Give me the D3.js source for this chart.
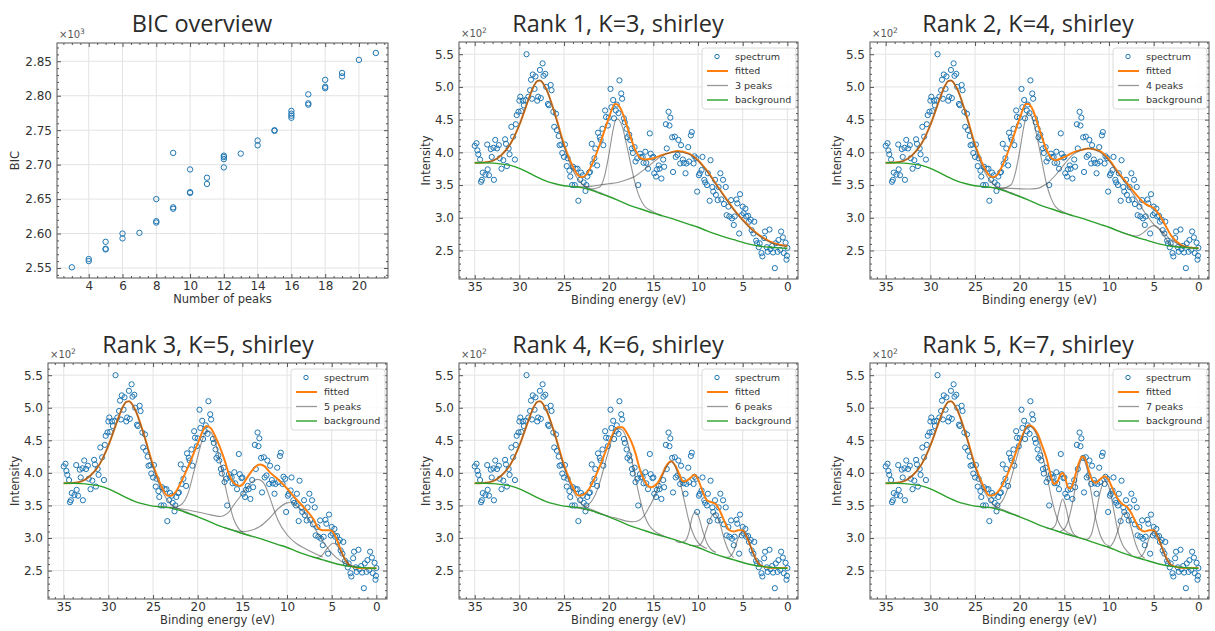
<!DOCTYPE html>
<html>
<head>
<meta charset="utf-8">
<script src="https://cdn.jsdelivr.net/npm/d3@7"></script>
<style>
  body { margin: 0; background: #fff; }
  svg { display: block; }
</style>
</head>
<body>
<svg id="fig" width="1215" height="631"></svg>
<script>
// ---- data ----

// BIC overview: [number of peaks, BIC]
var bicPoints = [
  [3, 2551], [4, 2563], [4, 2560], [5, 2588], [5, 2578], [5, 2577],
  [6, 2600], [6, 2593], [7, 2601], [8, 2650], [8, 2618], [8, 2616],
  [9, 2717], [9, 2638], [9, 2636], [10, 2693], [10, 2660], [10, 2659],
  [11, 2681], [11, 2672], [12, 2713], [12, 2711], [12, 2708], [12, 2696],
  [13, 2716], [14, 2735], [14, 2728], [15, 2750], [15, 2749],
  [16, 2778], [16, 2774], [16, 2771], [16, 2768],
  [17, 2802], [17, 2789], [17, 2787], [18, 2823], [18, 2813], [18, 2811],
  [19, 2833], [19, 2828], [20, 2852], [21, 2862]
];

// measured spectrum: [binding energy (eV), intensity (x10^2)]
var spectrum = [
  [35.0,4.10],[34.8,4.14],[34.7,4.03],[34.6,3.97],[34.4,3.89],[34.3,3.55],[34.2,3.58],[34.1,3.69],
  [33.8,3.66],[33.6,4.12],[33.55,3.74],[33.4,3.65],[33.2,4.05],[33.1,3.93],[32.9,4.07],[32.85,3.58],
  [32.7,4.19],[32.5,4.06],[32.3,4.11],[32.2,3.91],[32.0,3.75],[31.8,3.88],[31.6,4.20],[31.5,4.13],
  [31.4,3.79],[31.2,4.06],[31.1,3.97],[30.9,4.39],[30.7,4.24],[30.5,3.89],[30.4,4.43],[30.3,4.57],
  [30.1,4.62],[30.0,4.79],[29.9,4.85],[29.8,4.63],[29.6,4.79],[29.5,4.72],[29.3,4.80],[29.2,5.50],
  [29.0,4.85],[28.8,4.95],[28.7,5.11],[28.6,4.82],[28.5,5.19],[28.3,4.97],[28.2,5.16],[28.0,4.79],
  [27.9,4.85],[27.7,5.26],[27.6,4.83],[27.4,5.36],[27.3,5.17],[27.1,5.20],[27.0,5.00],[26.8,4.74],
  [26.7,4.72],[26.5,5.03],[26.4,4.95],[26.2,4.62],[26.1,4.39],[25.9,4.59],[25.8,4.34],[25.6,4.25],
  [25.5,4.11],[25.3,4.12],[25.2,3.99],[25.0,3.93],[24.9,4.12],[24.7,3.79],[24.6,3.91],[24.4,3.72],
  [24.3,3.63],[24.1,3.50],[24.0,3.78],[23.8,3.50],[23.7,3.75],[23.5,3.75],[23.4,3.26],[23.2,3.58],
  [23.1,3.69],[22.9,3.65],[22.8,3.54],[22.6,3.41],[22.5,3.50],[22.4,3.63],[22.2,3.69],[22.1,3.70],
  [21.9,4.13],[21.8,3.83],[21.6,3.91],[21.5,4.06],[21.3,3.80],[21.2,4.30],[21.0,4.23],[20.9,4.19],
  [20.7,4.36],[20.6,4.11],[20.4,4.64],[20.3,4.54],[20.1,4.41],[20.0,4.53],[19.8,4.97],[19.7,4.69],
  [19.5,4.80],[19.4,4.52],[19.2,4.64],[19.1,4.73],[18.9,4.60],[18.8,5.10],[18.6,4.90],[18.5,4.82],
  [18.3,4.52],[18.2,4.46],[18.0,4.36],[17.9,4.23],[17.7,4.27],[17.6,4.19],[17.4,4.06],[17.3,3.99],
  [17.1,4.08],[17.0,3.86],[16.8,3.91],[16.7,3.50],[16.5,3.98],[16.4,3.93],[16.2,3.93],[16.1,3.84],
  [15.9,4.01],[15.8,3.84],[15.6,3.75],[15.4,4.29],[15.3,3.98],[15.1,3.92],[15.0,3.93],[14.9,3.68],
  [14.7,3.63],[14.6,3.74],[14.4,3.80],[14.3,3.75],[14.1,3.60],[13.9,3.89],[13.8,3.78],[13.6,4.43],
  [13.5,4.06],[13.3,4.62],[13.2,4.41],[13.1,4.53],[12.9,4.23],[12.8,3.70],[12.6,4.24],[12.5,3.93],
  [12.3,3.96],[12.2,4.19],[12.0,3.83],[11.9,4.11],[11.7,3.89],[11.6,3.84],[11.4,3.68],[11.3,3.83],
  [11.1,4.08],[11.0,3.86],[10.8,4.26],[10.7,4.31],[10.5,3.83],[10.4,3.94],[10.2,3.91],[10.1,3.40],
  [9.9,3.65],[9.8,3.68],[9.6,3.73],[9.5,3.93],[9.3,3.58],[9.2,3.54],[9.0,3.50],[8.9,3.68],
  [8.7,3.26],[8.6,3.88],[8.4,3.47],[8.3,3.40],[8.1,3.58],[8.0,3.35],[7.8,3.27],[7.7,3.47],
  [7.5,3.68],[7.4,3.28],[7.2,3.58],[7.1,3.21],[6.9,3.47],[6.8,3.04],[6.6,3.17],[6.5,3.02],
  [6.3,3.27],[6.2,2.99],[6.0,2.89],[5.9,3.02],[5.7,3.28],[5.6,3.22],[5.4,2.76],[5.3,3.36],
  [5.1,3.04],[5.0,3.17],[4.9,3.07],[4.7,3.14],[4.6,3.02],[4.4,3.03],[4.3,2.94],[4.1,2.97],
  [4.0,2.81],[3.8,2.76],[3.7,2.94],[3.5,2.65],[3.4,2.61],[3.2,2.55],[3.1,2.61],[2.9,2.46],
  [2.8,2.41],[2.6,2.69],[2.5,2.79],[2.3,2.55],[2.2,2.48],[2.0,2.82],[1.9,2.52],[1.7,2.57],
  [1.6,2.47],[1.4,2.23],[1.3,2.61],[1.1,2.48],[1.0,2.66],[0.8,2.51],[0.7,2.79],[0.5,2.70],
  [0.4,2.46],[0.2,2.62],[0.1,2.36],[0.05,2.42],[0.0,2.54]
];

// shirley background (same in every fit)
var background = [
  [35,3.84],[34,3.84],[33,3.835],[32,3.82],[31,3.80],[30,3.755],[29,3.69],[28,3.62],[27,3.56],
  [26,3.52],[25,3.49],[24,3.475],[23,3.46],[22,3.425],[21,3.375],[20,3.325],[19,3.27],[18,3.21],
  [17,3.16],[16,3.115],[15,3.07],[14,3.03],[13,2.99],[12,2.945],[11,2.90],[10,2.855],[9,2.80],
  [8,2.75],[7,2.705],[6,2.665],[5,2.625],[4,2.59],[3,2.565],[2,2.55],[1,2.54],[0,2.535]
];

// first (largest) peak component, shared by every fit
var peakMain = [
  [35,3.84],[34,3.845],[33,3.87],[32,3.96],[31,4.13],[30,4.42],[29,4.80],[28.5,4.98],[28,5.09],
  [27.7,5.10],[27,4.97],[26,4.57],[25,4.09],[24,3.72],[23,3.52],[22,3.44],[21,3.385],[20,3.33]
];
var fitLeft = [
  [35,3.84],[34,3.845],[33,3.87],[32,3.96],[31,4.13],[30,4.42],[29,4.80],[28.5,4.98],[28,5.09],
  [27.7,5.10],[27,4.97],[26,4.58],[25,4.12],[24,3.78],[23.5,3.66]
];

// rank 1, K=3
var fit3 = fitLeft.concat([
  [23,3.62],[22.5,3.66],[22,3.78],[21,4.12],[20,4.52],[19.3,4.74],[19,4.73],[18.5,4.62],[18,4.42],
  [17,4.03],[16.5,3.92],[16,3.89],[15,3.91],[14,3.96],[13,4.0],[12.3,4.02],[11,3.98],[10,3.88],
  [9,3.72],[8,3.52],[7.5,3.42],[7,3.32],[6,3.13],[5,2.97],[4,2.83],[3,2.72],[2,2.64],[1,2.59],[0,2.57]
]);
var peaks3 = [
  peakMain,
  [[23,3.46],[22,3.44],[21,3.47],[20.5,3.62],[20,3.95],[19.5,4.35],[19.2,4.50],[19,4.51],[18.5,4.40],
   [18,4.12],[17.5,3.80],[17,3.50],[16.5,3.30],[16,3.18],[15,3.09],[14,3.035]],
  [[24,3.48],[23,3.475],[22,3.48],[21,3.50],[20,3.52],[19,3.54],[18,3.58],[17,3.64],[16,3.74],
   [15,3.85],[14,3.95],[13,4.0],[12.3,4.01],[11,3.97],[10,3.87],[9,3.71],[8,3.51],[7,3.31],
   [6,3.12],[5,2.96],[4,2.82],[3,2.71],[2,2.63],[1,2.585],[0,2.565]]
];

// rank 2, K=4
var fit4 = fitLeft.concat([
  [23,3.62],[22.5,3.66],[22,3.78],[21,4.12],[20,4.52],[19.3,4.74],[19,4.74],[18.5,4.64],[18,4.44],
  [17,4.04],[16.5,3.92],[16,3.88],[15,3.93],[14,4.0],[13,4.04],[12.3,4.06],[11,4.02],[10,3.89],
  [9,3.70],[8,3.53],[7,3.36],[6,3.22],[5.5,3.18],[5,3.15],[4.5,3.07],[4,2.96],[3,2.72],[2,2.59],
  [1,2.545],[0,2.535]
]);
var peaks4 = [
  peakMain,
  [[23,3.46],[22,3.45],[21,3.50],[20.5,3.68],[20,4.02],[19.5,4.42],[19.2,4.58],[19,4.60],[18.5,4.48],
   [18,4.20],[17.5,3.85],[17,3.52],[16.5,3.30],[16,3.17],[15,3.08],[14,3.03]],
  [[24,3.47],[23,3.46],[21,3.45],[19,3.44],[18,3.45],[17,3.52],[16,3.65],[15,3.82],[14,3.97],
   [13,4.04],[12.3,4.06],[11,4.0],[10,3.87],[9,3.68],[8,3.50],[7,3.30],[6,3.08],[5,2.90],
   [4,2.78],[3,2.66],[2,2.58],[1,2.545],[0,2.535]],
  [[9,2.80],[8,2.75],[7,2.72],[6.5,2.74],[6,2.79],[5.5,2.85],[5,2.88],[4.5,2.85],[4,2.76],
   [3.5,2.65],[3,2.58],[2,2.55]]
];

// rank 3, K=5
var fit5 = fitLeft.concat([
  [23.3,3.65],[23,3.65],[22.5,3.70],[22,3.82],[21,4.12],[20,4.45],[19.2,4.70],[19,4.72],[18.5,4.68],
  [18,4.55],[17,4.20],[16.5,3.98],[16,3.85],[15.3,3.80],[15,3.82],[14.5,3.92],[14,4.02],[13.3,4.12],
  [13,4.13],[12.5,4.10],[12,4.02],[11,3.90],[10,3.76],[9,3.60],[8,3.45],[7,3.28],[6.5,3.15],
  [6,3.12],[5.3,3.12],[5,3.11],[4.5,3.0],[4,2.82],[3.5,2.67],[3,2.58],[2,2.54],[1,2.535],[0,2.535]
]);
var peaks5 = [
  peakMain,
  [[24,3.47],[23,3.47],[22,3.50],[21,3.72],[20.5,3.98],[20,4.25],[19.5,4.50],[19,4.65],[18.5,4.62],
   [18,4.45],[17.5,4.18],[17,3.85],[16.5,3.55],[16,3.30],[15.5,3.16],[15,3.09],[14,3.03]],
  [[24,3.48],[22,3.45],[20,3.40],[19,3.37],[18,3.34],[17.5,3.33],[17,3.35],[16.5,3.40],[16,3.50],
   [15,3.68],[14,3.85],[13.3,3.90],[13,3.89],[12.5,3.82],[12,3.65],[11.5,3.45],[11,3.27],[10,3.05],
   [9,2.92],[8,2.84],[7,2.77],[6,2.71]],
  [[17,3.16],[16,3.12],[15,3.10],[14,3.12],[13,3.18],[12,3.30],[11,3.45],[10,3.54],[9.6,3.55],
   [9,3.50],[8,3.38],[7,3.17],[6,2.95],[5,2.77],[4,2.65],[3,2.58],[2,2.55]],
  [[7,2.70],[6.5,2.70],[6,2.75],[5.5,2.84],[5,2.91],[4.8,2.92],[4.5,2.90],[4,2.80],[3.5,2.67],
   [3,2.59],[2.5,2.56],[2,2.55]]
];

// rank 4, K=6
var fit6 = fitLeft.concat([
  [23.2,3.65],[22.5,3.70],[22,3.80],[21,4.10],[20,4.45],[19,4.70],[18.5,4.70],[18,4.62],[17,4.30],
  [16.5,4.05],[16,3.88],[15.3,3.78],[15,3.79],[14.5,3.85],[14,3.98],[13.5,4.12],[13,4.18],[12.5,4.10],
  [12,3.95],[11.7,3.87],[11.3,3.88],[10.8,3.93],[10.4,3.97],[10,3.90],[9.5,3.72],[9,3.58],[8.5,3.55],
  [8,3.52],[7.5,3.40],[7,3.24],[6.5,3.12],[6,3.10],[5.5,3.12],[5,3.12],[4.5,3.0],[4,2.83],[3.5,2.67],
  [3,2.58],[2,2.545],[1,2.54],[0,2.54]
]);
var peaks6 = [
  peakMain,
  [[24,3.47],[23,3.47],[22,3.55],[21,3.85],[20.5,4.10],[20,4.35],[19.5,4.58],[19,4.68],[18.5,4.66],
   [18,4.52],[17.5,4.25],[17,3.92],[16.5,3.60],[16,3.35],[15.5,3.20],[15,3.12],[14,3.04],[13,2.99]],
  [[24,3.47],[22,3.42],[20,3.33],[19,3.30],[18,3.26],[17.2,3.25],[16.5,3.28],[16,3.35],[15.5,3.47],
   [15,3.60],[14.5,3.78],[14,3.95],[13.5,4.10],[13,4.17],[12.5,4.08],[12,3.85],[11.5,3.55],[11,3.25],
   [10.5,3.05],[10,2.93],[9,2.84]],
  [[12.5,2.95],[12,2.93],[11.5,2.95],[11,3.10],[10.7,3.30],[10.3,3.40],[10,3.35],[9.5,3.12],
   [9,2.92],[8.5,2.82],[8,2.78]],
  [[11,2.89],[10,2.88],[9.5,2.95],[9,3.15],[8.5,3.33],[8.2,3.38],[8,3.36],[7.5,3.20],[7,2.95],
   [6.5,2.78],[6,2.70]],
  [[7,2.70],[6.5,2.71],[6,2.80],[5.5,3.00],[5,3.10],[4.5,3.02],[4,2.82],[3.5,2.66],[3,2.58],[2.5,2.56]]
];

// rank 5, K=7
var fit7 = fitLeft.concat([
  [23.2,3.65],[22.5,3.70],[22,3.80],[21,4.10],[20,4.47],[19,4.73],[18.5,4.70],[18,4.60],[17.5,4.42],
  [17,4.22],[16.5,3.95],[16.2,3.83],[15.8,3.86],[15.4,3.98],[15.2,4.0],[14.9,3.92],[14.6,3.78],
  [14.3,3.76],[14,3.85],[13.5,4.10],[13,4.25],[12.7,4.22],[12.3,4.05],[12,3.92],[11.5,3.85],
  [11,3.90],[10.5,3.95],[10,3.88],[9.5,3.72],[9,3.60],[8.5,3.52],[8,3.48],[7.5,3.38],[7,3.24],
  [6.5,3.13],[6,3.10],[5.5,3.12],[5,3.12],[4.5,3.0],[4,2.83],[3.5,2.67],[3,2.58],[2,2.545],
  [1,2.54],[0,2.54]
]);
var peaks7 = [
  peakMain,
  [[24,3.47],[23,3.47],[22,3.56],[21,3.90],[20.5,4.15],[20,4.40],[19.5,4.62],[19,4.72],[18.5,4.68],
   [18,4.55],[17.5,4.30],[17,4.00],[16.5,3.65],[16,3.38],[15.5,3.20],[15,3.12],[14,3.04],[13,2.99]],
  [[17,3.15],[16.5,3.14],[16,3.20],[15.6,3.42],[15.2,3.60],[14.8,3.45],[14.4,3.20],[14,3.07],[13.5,3.02]],
  [[15.5,3.10],[15,3.14],[14.5,3.30],[14,3.60],[13.5,4.00],[13,4.22],[12.5,4.08],[12,3.70],
   [11.5,3.30],[11,3.05],[10.5,2.92],[10,2.88]],
  [[13,2.99],[12.5,2.98],[12,3.05],[11.5,3.35],[11,3.70],[10.5,3.88],[10,3.78],[9.5,3.45],
   [9,3.10],[8.5,2.90],[8,2.80],[7.5,2.74]],
  [[10.5,2.87],[10,2.87],[9.5,2.94],[9,3.12],[8.5,3.35],[8.2,3.40],[8,3.37],[7.5,3.15],[7,2.90],
   [6.5,2.75],[6,2.69]],
  [[7,2.70],[6.5,2.71],[6,2.80],[5.5,3.00],[5,3.10],[4.5,3.02],[4,2.82],[3.5,2.66],[3,2.58],[2.5,2.56]]
];

var fitTitles = ["Rank 1, K=3, shirley", "Rank 2, K=4, shirley", "Rank 3, K=5, shirley",
                 "Rank 4, K=6, shirley", "Rank 5, K=7, shirley"];
var fitLabels = ["3 peaks", "4 peaks", "5 peaks", "6 peaks", "7 peaks"];
var fitCurves = [fit3, fit4, fit5, fit6, fit7];
var fitPeaks = [peaks3, peaks4, peaks5, peaks6, peaks7];

var energyTicks = [35, 30, 25, 20, 15, 10, 5, 0];
var intensityTicks = [2.5, 3.0, 3.5, 4.0, 4.5, 5.0, 5.5];
var peakCountTicks = [4, 6, 8, 10, 12, 14, 16, 18, 20];
var bicTicks = [2550, 2600, 2650, 2700, 2750, 2800, 2850];

// ---- layout ----
var svg = d3.select("#fig");
var tickFont = "'DejaVu Sans', sans-serif";
var titleFont = "'Open Sans', sans-serif";
var textColor = "#333";

var boxes = [
  {l: 57, r: 388, t: 43, b: 278, tx: 202, ty: 32},   // BIC
  {l: 459, r: 798, t: 42, b: 279, tx: 618, ty: 32},
  {l: 870, r: 1209, t: 42, b: 279, tx: 1028, ty: 32},
  {l: 48, r: 387, t: 363, b: 599, tx: 208, ty: 353},
  {l: 459, r: 798, t: 363, b: 599, tx: 618, ty: 353},
  {l: 870, r: 1209, t: 363, b: 599, tx: 1028, ty: 353}
];

function styleText(sel, size) {
  return sel.attr("font-family", tickFont).attr("font-size", size).attr("fill", textColor);
}

// grid lines at the major ticks
function drawGrid(g, x, y, box, xt, yt) {
  var grid = g.append("g").attr("stroke", "#e3e3e3").attr("stroke-width", 1);
  grid.selectAll(".gx").data(xt).join("line")
      .attr("x1", function(d) { return x(d); }).attr("x2", function(d) { return x(d); })
      .attr("y1", box.t).attr("y2", box.b);
  grid.selectAll(".gy").data(yt).join("line")
      .attr("y1", function(d) { return y(d); }).attr("y2", function(d) { return y(d); })
      .attr("x1", box.l).attr("x2", box.r);
}

// inward ticks on all four sides plus the frame
function drawFrame(g, x, y, box, xt, yt, xm, ym, xf, yf) {
  function ax(axis, tr, vals, size, pad, fmt) {
    var a = g.append("g").attr("transform", tr)
        .call(axis.tickValues(vals).tickSize(size).tickPadding(pad).tickFormat(fmt));
    a.select(".domain").remove();
    a.selectAll("line").attr("stroke", "#555");
    return a;
  }
  var none = function() { return ""; };
  var xb = ax(d3.axisBottom(x), "translate(0," + box.b + ")", xt, -4, 3, xf);
  ax(d3.axisBottom(x), "translate(0," + box.b + ")", xm, -2, 3, none);
  ax(d3.axisTop(x), "translate(0," + box.t + ")", xt, -4, 3, none);
  ax(d3.axisTop(x), "translate(0," + box.t + ")", xm, -2, 3, none);
  var yl = ax(d3.axisLeft(y), "translate(" + box.l + ",0)", yt, -4, 5, yf);
  ax(d3.axisLeft(y), "translate(" + box.l + ",0)", ym, -2, 5, none);
  ax(d3.axisRight(y), "translate(" + box.r + ",0)", yt, -4, 5, none);
  ax(d3.axisRight(y), "translate(" + box.r + ",0)", ym, -2, 5, none);
  styleText(xb.selectAll("text"), 12);
  styleText(yl.selectAll("text"), 12);
  g.append("rect")
      .attr("x", box.l).attr("y", box.t)
      .attr("width", box.r - box.l).attr("height", box.b - box.t)
      .attr("fill", "none").attr("stroke", "#555").attr("stroke-width", 1);
}

function drawTitle(box, text) {
  svg.append("text")
      .attr("x", box.tx).attr("y", box.ty)
      .attr("text-anchor", "middle")
      .attr("font-family", titleFont).attr("font-size", 23.5)
      .attr("fill", "#2b2b2b")
      .text(text);
}

function drawOffset(box, power) {
  var t = svg.append("text")
      .attr("x", box.l + 2).attr("y", box.t - 5)
      .attr("font-family", tickFont).attr("font-size", 10).attr("fill", "#555");
  t.append("tspan").text("\u00d710");
  t.append("tspan").attr("dy", -4).attr("font-size", 7.5).text(power);
}

function axisLabels(box, xText, yText, yGap) {
  styleText(svg.append("text")
      .attr("x", (box.l + box.r) / 2).attr("y", box.b + 25)
      .attr("text-anchor", "middle"), 11.5).text(xText);
  styleText(svg.append("text")
      .attr("transform", "translate(" + (box.l - yGap) + "," + ((box.t + box.b) / 2) + ") rotate(-90)")
      .attr("text-anchor", "middle"), 11.5).text(yText);
}

// ---- BIC overview ----
(function() {
  var box = boxes[0];
  var x = d3.scaleLinear().domain([2.12, 21.72]).range([box.l, box.r]);
  var y = d3.scaleLinear().domain([2535.5, 2876.5]).range([box.b, box.t]);
  var g = svg.append("g");
  drawGrid(g, x, y, box, peakCountTicks, bicTicks);
  g.append("g").selectAll("circle").data(bicPoints).join("circle")
      .attr("cx", function(d) { return x(d[0]); })
      .attr("cy", function(d) { return y(d[1]); })
      .attr("r", 2.7)
      .attr("fill", "none").attr("stroke", "#1f77b4").attr("stroke-width", 1);
  drawFrame(g, x, y, box, peakCountTicks, bicTicks,
      d3.range(2.5, 21.6, 0.5).filter(function(v) { return v % 2 !== 0; }),
      d3.range(2540, 2876, 10).filter(function(v) { return v % 50 !== 0; }),
      d3.format("d"), function(v) { return (v / 1000).toFixed(2); });
  drawTitle(box, "BIC overview");
  drawOffset(box, "3");
  axisLabels(box, "Number of peaks", "BIC", 38);
})();

// ---- fit panels ----
fitCurves.forEach(function(fit, i) {
  var box = boxes[i + 1];
  var x = d3.scaleLinear().domain([36.76, -1.19]).range([box.l, box.r]);
  var y = d3.scaleLinear().domain([2.064, 5.687]).range([box.b, box.t]);
  var line = d3.line()
      .x(function(d) { return x(d[0]); })
      .y(function(d) { return y(d[1]); })
      .curve(d3.curveMonotoneX);
  var g = svg.append("g");
  drawGrid(g, x, y, box, energyTicks, intensityTicks);

  g.append("g").selectAll("circle").data(spectrum).join("circle")
      .attr("cx", function(d) { return x(d[0]); })
      .attr("cy", function(d) { return y(d[1]); })
      .attr("r", 2.6)
      .attr("fill", "none").attr("stroke", "#1f77b4").attr("stroke-width", 1);

  g.append("path").datum(fit).attr("d", line)
      .attr("fill", "none").attr("stroke", "#ff7f0e").attr("stroke-width", 2);

  g.append("g").selectAll("path").data(fitPeaks[i]).join("path")
      .attr("d", line)
      .attr("fill", "none").attr("stroke", "#4d4d4d").attr("stroke-opacity", 0.6)
      .attr("stroke-width", 1.1);

  g.append("path").datum(background).attr("d", line)
      .attr("fill", "none").attr("stroke", "#2ca02c").attr("stroke-width", 1.4);

  drawFrame(g, x, y, box, energyTicks, intensityTicks,
      d3.range(-1, 37).filter(function(v) { return v % 5 !== 0; }),
      d3.range(2.1, 5.65, 0.1).filter(function(v) { return Math.abs(v * 2 - Math.round(v * 2)) > 0.05; }),
      d3.format("d"), d3.format(".1f"));

  // legend
  var lx = box.r - 96, ly = box.t + 6;
  var lg = g.append("g").attr("transform", "translate(" + lx + "," + ly + ")");
  lg.append("rect").attr("width", 94).attr("height", 61).attr("rx", 3)
      .attr("fill", "#fff").attr("fill-opacity", 0.85)
      .attr("stroke", "#d0d0d0").attr("stroke-width", 0.8);
  var items = [
    {label: "spectrum", kind: "dot", color: "#1f77b4"},
    {label: "fitted", kind: "line", color: "#ff7f0e", w: 2},
    {label: fitLabels[i], kind: "line", color: "#999", w: 1.3},
    {label: "background", kind: "line", color: "#2ca02c", w: 1.4}
  ];
  var row = lg.selectAll(".row").data(items).join("g")
      .attr("transform", function(d, k) { return "translate(0," + (8.5 + k * 14.5) + ")"; });
  row.filter(function(d) { return d.kind === "dot"; }).append("circle")
      .attr("cx", 15).attr("r", 2.2)
      .attr("fill", "none").attr("stroke", function(d) { return d.color; }).attr("stroke-width", 1);
  row.filter(function(d) { return d.kind === "line"; }).append("line")
      .attr("x1", 5).attr("x2", 26)
      .attr("stroke", function(d) { return d.color; })
      .attr("stroke-width", function(d) { return d.w; });
  styleText(row.append("text").attr("x", 33).attr("dy", "0.35em"), 9.5)
      .text(function(d) { return d.label; });

  drawTitle(box, fitTitles[i]);
  drawOffset(box, "2");
  axisLabels(box, "Binding energy (eV)", "Intensity", 29);
});
</script>
</body>
</html>
